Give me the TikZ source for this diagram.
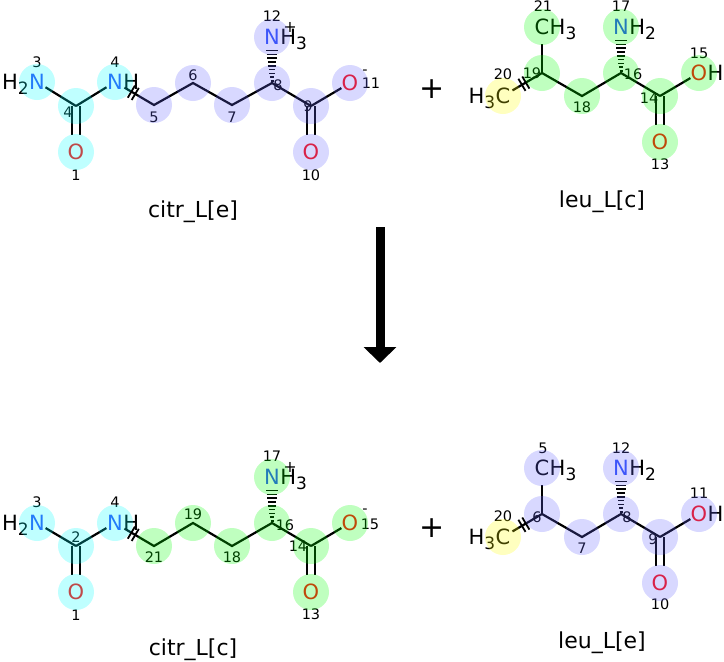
\documentclass[tikz,border=0pt]{standalone}
\usepackage{fontspec}
\setmainfont{DejaVu Sans}
\usetikzlibrary{calc,arrows.meta}

\definecolor{atomN}{RGB}{48,80,248}
\definecolor{atomO}{RGB}{255,13,13}
\definecolor{hlcyan}{RGB}{0,255,255}
\definecolor{hlblue}{RGB}{100,100,255}
\definecolor{hlgreen}{RGB}{0,255,0}
\definecolor{hlyellow}{RGB}{255,255,0}

\newcommand\sub[1]{\raisebox{-4.5pt}{\fontsize{17}{17}\selectfont #1}}
\newcommand\hashbond[2]{\foreach \k in {0,...,8}{\draw[line width=1.5pt] ($(#1)!{2pt+\k*3.8pt}!(#2)$) ++({-1.5-0.55*\k},0) -- ++({3+1.1*\k},0);}}
\newcommand\cutmark[3]{\path ($(#1)!#3!(#2)$) coordinate (cm);
  \draw[line width=1.8pt] ($(cm)!7pt!90:(#2)$) -- ($(cm)!7pt!-90:(#2)$);}

\tikzset{
  atom/.style={inner sep=0pt, font=\fontsize{21}{21}\selectfont},
  idx/.style={inner sep=0pt, font=\fontsize{14.5}{14.5}\selectfont},
  molname/.style={inner sep=0pt, anchor=base, font=\fontsize{22}{22}\selectfont},
  chg/.style={inner sep=0pt, font=\fontsize{16}{16}\selectfont},
  bond/.style={line width=2.2pt},
  hl/.style={fill=#1, fill opacity=0.25, draw=none},
}

\begin{document}
\begin{tikzpicture}[x=1pt,y=-1pt]
\useasboundingbox (0,0) rectangle (724,662);
%\draw[help lines,step=20] (0,0) grid (724,662);

% citr_L[e]
\coordinate (tl1) at (76,152);
\coordinate (tl2) at (76,106);
\coordinate (tl3) at (37,82);
\coordinate (tl4) at (115,82);
\coordinate (tl5) at (154,105);
\coordinate (tl6) at (193,83);
\coordinate (tl7) at (232,105);
\coordinate (tl8) at (272,83);
\coordinate (tl9) at (311,106);
\coordinate (tl10) at (311,152);
\coordinate (tl11) at (350,83);
\coordinate (tl12) at (272,37);
\draw[bond, shorten <=10pt] (tl3) -- (tl2);
\draw[bond, shorten >=10pt] (tl2) -- (tl4);
\draw[bond, shorten >=17pt] ([xshift=-4pt]tl2) -- ([xshift=-4pt]tl1);
\draw[bond, shorten >=17pt] ([xshift=4pt]tl2) -- ([xshift=4pt]tl1);
\draw[bond, shorten <=11pt] (tl4) -- (tl5) -- (tl6) -- (tl7) -- (tl8) -- (tl9);
\draw[bond, shorten >=17pt] ([xshift=-4pt]tl9) -- ([xshift=-4pt]tl10);
\draw[bond, shorten >=17pt] ([xshift=4pt]tl9) -- ([xshift=4pt]tl10);
\draw[bond, shorten >=10pt] (tl9) -- (tl11);
\hashbond{tl8}{tl12}
\cutmark{tl4}{tl5}{19pt}
\cutmark{tl4}{tl5}{23.5pt}
\node[atom, text=atomO] (o1) at (tl1) {O};
\node[atom, text=atomN] (n3) at (tl3) {N};
\node[atom, anchor=base east] (n3h) at (n3.base west) {H\sub{2}};
\node[atom, text=atomN] (n4) at (tl4) {N};
\node[atom, anchor=base west] (n4h) at (n4.base east) {H};
\node[atom, text=atomO] (o10) at (tl10) {O};
\node[atom, text=atomO] (o11) at (tl11) {O};
\node[atom, text=atomN] (n12) at (tl12) {N};
\node[atom, anchor=base west] (n12h) at (n12.base east) {H\sub{3}};
\node[chg] (n12c) at (290,27) {+};
\node[idx] (o11c) at (365,72) {-};
\node[idx] (i1) at (76,175) {1};
\node[idx] (i4c) at (68,112) {4};
\node[idx] (i3) at (37,62) {3};
\node[idx] (i4) at (115,62) {4};
\node[idx] (i5) at (154,117) {5};
\node[idx] (i6) at (193,75) {6};
\node[idx] (i7) at (232,117) {7};
\node[idx] (i8) at (278,85) {8};
\node[idx] (i9) at (308,106) {9};
\node[idx] (i10) at (311,175) {10};
\node[idx] (i11) at (371,83) {11};
\node[idx] (i12) at (272,16) {12};
\node[molname] (citre) at (193,217) {citr\_L[e]};
\foreach \a in {1,...,4} \fill[hl=hlcyan] (tl\a) circle (18);
\foreach \a in {5,...,12} \fill[hl=hlblue] (tl\a) circle (18);

% leu_L[c]
\coordinate (tr13) at (660,142);
\coordinate (tr14) at (660,96);
\coordinate (tr15) at (699,73);
\coordinate (tr16) at (621,73);
\coordinate (tr17) at (621,27);
\coordinate (tr18) at (582,96);
\coordinate (tr19) at (542,73);
\coordinate (tr20) at (503,96);
\coordinate (tr21) at (542,27);
\draw[bond, shorten <=11pt] (tr20) -- (tr19) -- (tr18) -- (tr16) -- (tr14);
\draw[bond, shorten >=10pt] (tr14) -- (tr15);
\draw[bond, shorten >=17pt] (tr19) -- (tr21);
\draw[bond, shorten >=17pt] ([xshift=-4pt]tr14) -- ([xshift=-4pt]tr13);
\draw[bond, shorten >=17pt] ([xshift=4pt]tr14) -- ([xshift=4pt]tr13);
\hashbond{tr16}{tr17}
\cutmark{tr20}{tr19}{22pt}
\cutmark{tr20}{tr19}{26.5pt}
\node[atom, text=atomO] (o13) at (tr13) {O};
\node[atom, text=atomO] (o15) at (tr15) {O};
\node[atom, anchor=base west] (o15h) at (o15.base east) {H};
\node[atom, text=atomN] (n17) at (tr17) {N};
\node[atom, anchor=base west] (n17h) at (n17.base east) {H\sub{2}};
\node[atom] (c20) at (tr20) {C};
\node[atom, anchor=base east] (c20h) at (c20.base west) {H\sub{3}};
\node[atom] (c21) at (tr21) {C};
\node[atom, anchor=base west] (c21h) at (c21.base east) {H\sub{3}};
\node[idx] (j13) at (660,164) {13};
\node[idx] (j14) at (649,98) {14};
\node[idx] (j15) at (699,53) {15};
\node[idx] (j16) at (633,74) {16};
\node[idx] (j17) at (621,6) {17};
\node[idx] (j18) at (582,107) {18};
\node[idx] (j19) at (532,73) {19};
\node[idx] (j20) at (503,74) {20};
\node[idx] (j21) at (543,6) {21};
\node[molname] (leuc) at (602,207) {leu\_L[c]};
\foreach \a in {13,...,19,21} \fill[hl=hlgreen] (tr\a) circle (18);
\fill[hl=hlyellow] (tr20) circle (18);

% plus signs and arrow
\node[inner sep=0pt, font=\fontsize{30}{30}\selectfont] (plustop) at (432,89) {+};
\node[inner sep=0pt, font=\fontsize{30}{30}\selectfont] (plusbot) at (432,528) {+};
\coordinate (arrtop) at (380,227);
\coordinate (arrend) at (380,363);
\draw[line width=9pt, -{Triangle[length=16pt,width=32pt]}] (arrtop) -- (arrend);

% citr_L[c]
\coordinate (bl1) at (76,592);
\coordinate (bl2) at (76,546);
\coordinate (bl3) at (37,523);
\coordinate (bl4) at (115,523);
\coordinate (bl21) at (154,546);
\coordinate (bl19) at (193,523);
\coordinate (bl18) at (232,546);
\coordinate (bl16) at (272,523);
\coordinate (bl14) at (311,546);
\coordinate (bl13) at (311,592);
\coordinate (bl15) at (350,523);
\coordinate (bl17) at (272,477);
\draw[bond, shorten <=10pt] (bl3) -- (bl2);
\draw[bond, shorten >=10pt] (bl2) -- (bl4);
\draw[bond, shorten >=17pt] ([xshift=-4pt]bl2) -- ([xshift=-4pt]bl1);
\draw[bond, shorten >=17pt] ([xshift=4pt]bl2) -- ([xshift=4pt]bl1);
\draw[bond, shorten <=11pt] (bl4) -- (bl21) -- (bl19) -- (bl18) -- (bl16) -- (bl14);
\draw[bond, shorten >=17pt] ([xshift=-4pt]bl14) -- ([xshift=-4pt]bl13);
\draw[bond, shorten >=17pt] ([xshift=4pt]bl14) -- ([xshift=4pt]bl13);
\draw[bond, shorten >=10pt] (bl14) -- (bl15);
\hashbond{bl16}{bl17}
\cutmark{bl4}{bl21}{19pt}
\cutmark{bl4}{bl21}{23.5pt}
\node[atom, text=atomO] (p1) at (bl1) {O};
\node[atom, text=atomN] (p3) at (bl3) {N};
\node[atom, anchor=base east] (p3h) at (p3.base west) {H\sub{2}};
\node[atom, text=atomN] (p4) at (bl4) {N};
\node[atom, anchor=base west] (p4h) at (p4.base east) {H};
\node[atom, text=atomO] (p13) at (bl13) {O};
\node[atom, text=atomO] (p15) at (bl15) {O};
\node[atom, text=atomN] (p17) at (bl17) {N};
\node[atom, anchor=base west] (p17h) at (p17.base east) {H\sub{3}};
\node[chg] (p17c) at (290,467) {+};
\node[idx] (p15c) at (365,511) {-};
\node[idx] (k1) at (76,615) {1};
\node[idx] (k2) at (76,537) {2};
\node[idx] (k3) at (37,502) {3};
\node[idx] (k4) at (115,502) {4};
\node[idx] (k21) at (154,557) {21};
\node[idx] (k19) at (193,514) {19};
\node[idx] (k18) at (232,557) {18};
\node[idx] (k16) at (285,525) {16};
\node[idx] (k14) at (298,546) {14};
\node[idx] (k13) at (311,614) {13};
\node[idx] (k15) at (370,524) {15};
\node[idx] (k17) at (272,456) {17};
\node[molname] (citrc) at (193,655) {citr\_L[c]};
\foreach \a in {1,...,4} \fill[hl=hlcyan] (bl\a) circle (18);
\foreach \a in {13,...,19,21} \fill[hl=hlgreen] (bl\a) circle (18);

% leu_L[e]
\coordinate (br5) at (542,468);
\coordinate (br6) at (542,514);
\coordinate (br7) at (582,537);
\coordinate (br8) at (621,514);
\coordinate (br9) at (660,537);
\coordinate (br10) at (660,583);
\coordinate (br11) at (699,514);
\coordinate (br12) at (621,468);
\coordinate (br20) at (503,537);
\draw[bond, shorten <=11pt] (br20) -- (br6) -- (br7) -- (br8) -- (br9);
\draw[bond, shorten >=10pt] (br9) -- (br11);
\draw[bond, shorten >=17pt] (br6) -- (br5);
\draw[bond, shorten >=17pt] ([xshift=-4pt]br9) -- ([xshift=-4pt]br10);
\draw[bond, shorten >=17pt] ([xshift=4pt]br9) -- ([xshift=4pt]br10);
\hashbond{br8}{br12}
\cutmark{br20}{br6}{22pt}
\cutmark{br20}{br6}{26.5pt}
\node[atom] (q5) at (br5) {C};
\node[atom, anchor=base west] (q5h) at (q5.base east) {H\sub{3}};
\node[atom, text=atomO] (q10) at (br10) {O};
\node[atom, text=atomO] (q11) at (br11) {O};
\node[atom, anchor=base west] (q11h) at (q11.base east) {H};
\node[atom, text=atomN] (q12) at (br12) {N};
\node[atom, anchor=base west] (q12h) at (q12.base east) {H\sub{2}};
\node[atom] (q20) at (br20) {C};
\node[atom, anchor=base east] (q20h) at (q20.base west) {H\sub{3}};
\node[idx] (m5) at (543,448) {5};
\node[idx] (m6) at (537,517) {6};
\node[idx] (m7) at (582,548) {7};
\node[idx] (m8) at (627,517) {8};
\node[idx] (m9) at (653,539) {9};
\node[idx] (m10) at (660,604) {10};
\node[idx] (m11) at (699,493) {11};
\node[idx] (m12) at (621,448) {12};
\node[idx] (m20) at (503,516) {20};
\node[molname] (leue) at (602,648) {leu\_L[e]};
\foreach \a in {5,...,12} \fill[hl=hlblue] (br\a) circle (18);
\fill[hl=hlyellow] (br20) circle (18);
\end{tikzpicture}
\end{document}
